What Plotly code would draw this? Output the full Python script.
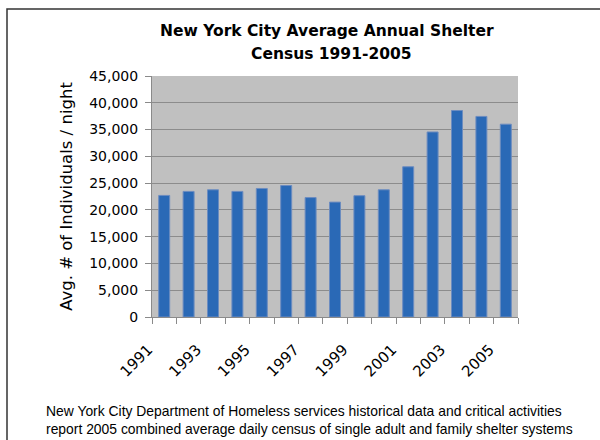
import plotly.graph_objects as go

YEARS = [str(y) for y in range(1991, 2006)]
CENSUS = [22700, 23450, 23750, 23450, 24000, 24550, 22300, 21450, 22650,
          23750, 28050, 34550, 38550, 37450, 36000]
TICK_LABELS = ["1991", "1993", "1995", "1997", "1999", "2001", "2003", "2005"]
Y_TICKS = [0, 5000, 10000, 15000, 20000, 25000, 30000, 35000, 40000, 45000]

TITLE_LINES = ["New York City Average Annual Shelter", "Census 1991-2005"]
Y_TITLE = "Avg. # of Individuals / night"
CAPTION = ("New York City Department of Homeless services historical data and critical activities<br>"
           "report 2005 combined average daily census of single adult and family shelter systems")

W, H = 600, 440
L, R, T, B = 152, 82, 76, 123
PW, PH = W - L - R, H - T - B

fig = go.Figure(go.Bar(
    x=YEARS, y=CENSUS,
    marker=dict(color="#2a69b6", line=dict(color="#6c8cc0", width=1)),
))

def px_x(p):
    return (p - L) / PW

def px_y(p):
    return (H - B - p) / PH

annotations = [
    dict(text=TITLE_LINES[0], xref="paper", yref="paper", x=px_x(327), y=px_y(31),
         xanchor="center", yanchor="middle", showarrow=False,
         font=dict(family="DejaVu Sans", size=15.5, color="#000", weight="bold")),
    dict(text=TITLE_LINES[1], xref="paper", yref="paper", x=px_x(331), y=px_y(54),
         xanchor="center", yanchor="middle", showarrow=False,
         font=dict(family="DejaVu Sans", size=15.5, color="#000", weight="bold")),
    dict(text=CAPTION, xref="paper", yref="paper",
         x=px_x(44), xanchor="left", y=px_y(401), yanchor="top",
         align="left", showarrow=False,
         font=dict(family="Liberation Sans", size=13.9, color="#000")),
]

fig.update_layout(
    width=W, height=H,
    margin=dict(l=L, r=R, t=T, b=B, autoexpand=False),
    paper_bgcolor="white",
    plot_bgcolor="#c0c0c0",
    bargap=0.55,
    showlegend=False,
    font=dict(family="DejaVu Sans", color="#000"),
    xaxis=dict(
        type="category",
        tickmode="array", tickvals=YEARS,
        ticktext=[c if c in TICK_LABELS else "" for c in YEARS],
        tickson="boundaries", ticks="outside", ticklen=6, tickcolor="#8a8a8a",
        tickangle=-45, tickfont=dict(size=15, color="#000"),
        showline=True, linecolor="#8a8a8a", linewidth=1,
        showgrid=False, ticklabelstandoff=17, ticklabelshift=-16,
        automargin=False,
    ),
    yaxis=dict(
        range=[0, 45000], tickmode="array", tickvals=Y_TICKS, tickformat=",",
        ticks="outside", ticklen=6, tickcolor="#8a8a8a",
        tickfont=dict(size=14, color="#000"),
        showline=True, linecolor="#8a8a8a", linewidth=1,
        gridcolor="#8c8c8c", gridwidth=1, zeroline=False,
        ticklabelstandoff=4, automargin=False,
        title=dict(text=Y_TITLE, font=dict(size=16.5, color="#000"), standoff=12),
    ),
    shapes=[dict(type="rect", xref="paper", yref="paper",
                 x0=px_x(7), x1=px_x(610), y0=px_y(450), y1=px_y(9),
                 line=dict(color="#333333", width=1.5), layer="below")],
    annotations=annotations,
)

fig.write_html("out.html", config={"displayModeBar": False},
               post_script="document.body.style.margin='0';document.body.style.overflow='hidden';")
